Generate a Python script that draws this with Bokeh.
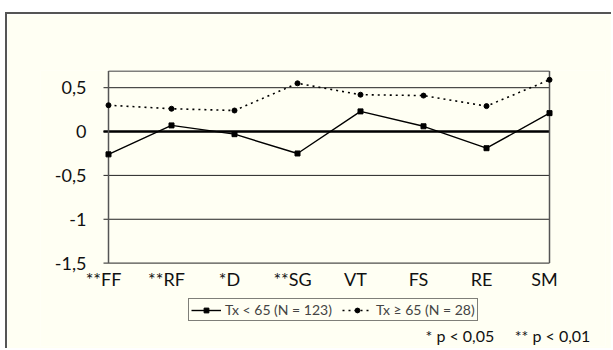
from bokeh.plotting import figure
from bokeh.models import (Range1d, LinearAxis, FixedTicker, Legend, LegendItem, Label)
from bokeh.embed import file_html
from bokeh.resources import INLINE

# ---- data ----
categories = ["**FF", "**RF", "*D", "**SG", "VT", "FS", "RE", "SM"]
tx_lt65 = [-0.26, 0.07, -0.03, -0.25, 0.23, 0.06, -0.19, 0.21]
tx_ge65 = [0.30, 0.26, 0.24, 0.55, 0.42, 0.41, 0.29, 0.59]
y_ticks = [-1.5, -1.0, -0.5, 0.0, 0.5]
y_tick_labels = ["-1,5", "-1", "-0,5", "0", "0,5"]
y_top = 0.69
legend_labels = ["Tx < 65 (N = 123)", "Tx \u2265 65 (N = 28)"]
footnote = "* p < 0,05\u00a0\u00a0\u00a0\u00a0\u00a0** p < 0,01"

BG = "#FFFFF3"
FONT = "Lato"
TXT = "#111111"
BOX = "#555555"
xs = list(range(len(categories)))
n_last = len(categories) - 1

# geometry (pixels); canvas starts at page (7, 14)
W, H = 606, 336
BL, BR, BT, BB = 33, 8, 56, 4
px_x, px_y = 63.0, 87.7
shift = 5 / px_x                     # tick stubs / label offset
x_start = -(108 - 40) / px_x         # frame starts left of the value box
x_end = x_start + (W - BL - BR) / px_x
y_start = -1.5 - (346 - 262.6) / px_y
y_end = y_start + (H - BT - BB) / px_y

p = figure(width=W, height=H, output_backend="svg", toolbar_location=None,
           x_range=Range1d(x_start, x_end), y_range=Range1d(y_start, y_end),
           x_axis_type=None, y_axis_type=None,
           min_border_left=BL, min_border_right=BR, min_border_top=BT, min_border_bottom=BB,
           background_fill_color=BG, border_fill_color=BG)
p.outline_line_color = None
p.styles = {"border-top": "2px solid #555555", "border-left": "2px solid #555555",
            "margin-left": "5px", "margin-top": "12px"}

# y axis, fixed just left of the value box
yax = LinearAxis(ticker=FixedTicker(ticks=y_ticks), fixed_location=-shift)
yax.major_label_overrides = {t: l for t, l in zip(y_ticks, y_tick_labels)}
yax.axis_line_color = None
yax.major_tick_line_color = None
yax.minor_tick_line_color = None
yax.major_label_standoff = 11
yax.major_label_text_font = FONT
yax.major_label_text_font_size = "18px"
yax.major_label_text_color = TXT
p.add_layout(yax, "left")

# x axis fixed at the bottom of the value box, on a shifted range
p.extra_x_ranges = {"lab": Range1d(x_start + shift, x_end + shift)}
xax = LinearAxis(x_range_name="lab", ticker=FixedTicker(ticks=xs), fixed_location=y_ticks[0])
xax.major_label_overrides = {i: c for i, c in enumerate(categories)}
xax.axis_line_color = None
xax.major_tick_line_color = None
xax.minor_tick_line_color = None
xax.major_label_standoff = -1
xax.major_label_text_font = FONT
xax.major_label_text_font_size = "18px"
xax.major_label_text_color = TXT
p.add_layout(xax, "below")

# horizontal grid lines (with short outward ticks)
p.segment(x0=[-shift] * len(y_ticks), y0=y_ticks, x1=[n_last] * len(y_ticks), y1=y_ticks,
          line_color="#222222", line_width=1)
# zero line
p.segment(x0=[-shift], y0=[0], x1=[n_last], y1=[0], line_color="black", line_width=2.5)
# plot box
p.segment(x0=[0, n_last, 0], y0=[y_ticks[0], y_ticks[0], y_top],
          x1=[0, n_last, n_last], y1=[y_top, y_top, y_top],
          line_color=BOX, line_width=1.5)

# series
l1 = p.line(xs, tx_lt65, line_color="black", line_width=1.4)
m1 = p.scatter(xs, tx_lt65, marker="square", size=5, color="black")
l2 = p.line(xs, tx_ge65, line_color="black", line_width=1.6, line_dash="2 4")
m2 = p.scatter(xs, tx_ge65, marker="circle", size=5, color="black")

legend = Legend(items=[LegendItem(label=legend_labels[0], renderers=[l1, m1]),
                       LegendItem(label=legend_labels[1], renderers=[l2, m2])],
                orientation="horizontal", location=(148, 25),
                glyph_width=30, glyph_height=12, label_standoff=4, spacing=10,
                padding=2, margin=0, label_height=13,
                label_text_font=FONT, label_text_font_size="14px",
                border_line_color="black", border_line_width=1,
                background_fill_color=BG, background_fill_alpha=1)
p.add_layout(legend, "center")

p.add_layout(Label(x=385, y=11, x_units="screen", y_units="screen", text=footnote,
                   text_baseline="alphabetic",
                   text_font=FONT, text_font_size="16px", text_color=TXT))

open("out.html", "w").write(file_html(p, INLINE))
